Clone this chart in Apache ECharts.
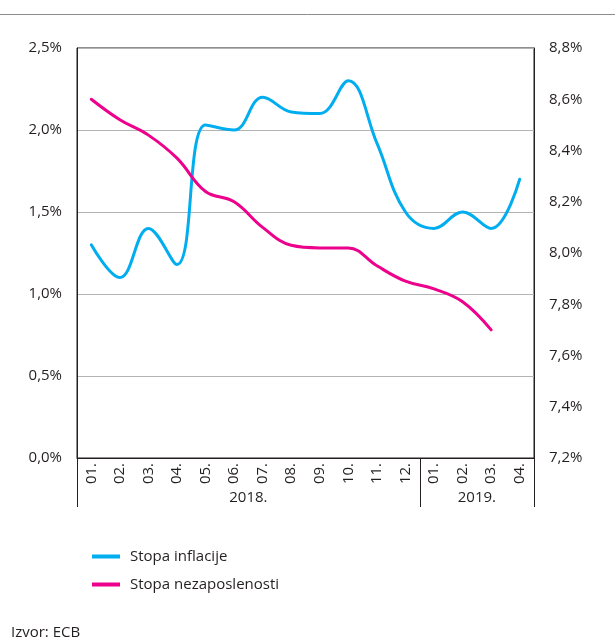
<!DOCTYPE html>
<html>
<head>
<meta charset="utf-8">
<script src="https://cdn.jsdelivr.net/npm/echarts@6/dist/echarts.min.js"></script>
<style>
  html, body { margin: 0; padding: 0; background: #fff; }
  #chart { width: 615px; height: 642px; }
</style>
</head>
<body>
<div id="chart"></div>
<script>
// mjeseci 2018.01 - 2019.04
var months = ['01.', '02.', '03.', '04.', '05.', '06.', '07.', '08.', '09.', '10.', '11.', '12.', '01.', '02.', '03.', '04.'];
var yearLabels = { 6: '2018.', 14: '2019.' };
var yearBreaks = [0, 12, 16];

var inflation = [1.3, 1.1, 1.4, 1.18, 2.03, 2.0, 2.2, 2.11, 2.1, 2.3, 1.92, 1.5, 1.4, 1.5, 1.4, 1.7];
var unemployment = [8.6, 8.52, 8.46, 8.37, 8.24, 8.2, 8.1, 8.03, 8.02, 8.02, 7.95, 7.89, 7.86, 7.81, 7.7, null];

var font = 'Open Sans';
var textColor = '#231f20';

function pct(v) {
    return v.toFixed(1).replace('.', ',') + '%';
}

var chart = echarts.init(document.getElementById('chart'));
var option = {
    backgroundColor: '#fff',
    animation: false,
    textStyle: { fontFamily: font },
    title: {
        text: 'Izvor: ECB',
        left: 6,
        top: 620,
        textStyle: { fontSize: 15, fontWeight: 'normal', color: textColor, fontFamily: font }
    },
    legend: {
        orient: 'vertical',
        left: 87,
        top: 544,
        itemWidth: 28,
        itemHeight: 4,
        itemGap: 13,
        icon: 'rect',
        textStyle: { fontSize: 15, color: textColor, fontFamily: font, padding: [0, 0, 0, 5] },
        data: ['Stopa inflacije', 'Stopa nezaposlenosti']
    },
    graphic: [
        {
            type: 'line',
            shape: { x1: 0, y1: 14.5, x2: 615, y2: 14.5 },
            style: { stroke: '#8c8c8c', lineWidth: 1 }
        }
    ],
    grid: {
        left: 77,
        right: 81,
        top: 48,
        bottom: 184,
        show: true,
        borderColor: '#231f20',
        borderWidth: 1
    },
    xAxis: [
        {
            type: 'category',
            data: months,
            boundaryGap: true,
            axisLine: { lineStyle: { color: '#231f20', width: 1 } },
            axisTick: { show: false },
            axisLabel: {
                rotate: 90,
                margin: 5,
                fontSize: 15,
                color: textColor,
                fontFamily: font
            }
        },
        {
            type: 'value',
            min: 0,
            max: 16,
            position: 'bottom',
            axisLine: { show: false },
            splitLine: { show: false },
            axisTick: {
                show: true,
                customValues: yearBreaks,
                length: 49,
                lineStyle: { color: '#231f20', width: 1 }
            },
            axisLabel: {
                customValues: [6, 14],
                margin: 32,
                fontSize: 15,
                color: textColor,
                fontFamily: font,
                formatter: function (v) { return yearLabels[v] || ''; }
            }
        }
    ],
    yAxis: [
        {
            type: 'value',
            min: 0,
            max: 2.5,
            interval: 0.5,
            axisLine: { show: true, lineStyle: { color: '#231f20' } },
            axisTick: { show: false },
            splitLine: { lineStyle: { color: '#b3b3b3', width: 1 } },
            axisLabel: { margin: 15, fontSize: 15, color: textColor, fontFamily: font, formatter: pct }
        },
        {
            type: 'value',
            min: 7.2,
            max: 8.8,
            interval: 0.2,
            position: 'right',
            axisLine: { show: true, lineStyle: { color: '#231f20' } },
            axisTick: { show: false },
            splitLine: { show: false },
            axisLabel: { margin: 15, fontSize: 15, color: textColor, fontFamily: font, formatter: pct }
        }
    ],
    series: [
        {
            name: 'Stopa inflacije',
            type: 'line',
            yAxisIndex: 0,
            data: inflation,
            smooth: 0.4,
            showSymbol: false,
            itemStyle: { color: '#00aeef' },
            lineStyle: { color: '#00aeef', width: 3, cap: 'round' }
        },
        {
            name: 'Stopa nezaposlenosti',
            type: 'line',
            yAxisIndex: 1,
            data: unemployment,
            smooth: 0.4,
            showSymbol: false,
            itemStyle: { color: '#ec008c' },
            lineStyle: { color: '#ec008c', width: 3, cap: 'round' }
        }
    ]
};
chart.setOption(option);
</script>
</body>
</html>
